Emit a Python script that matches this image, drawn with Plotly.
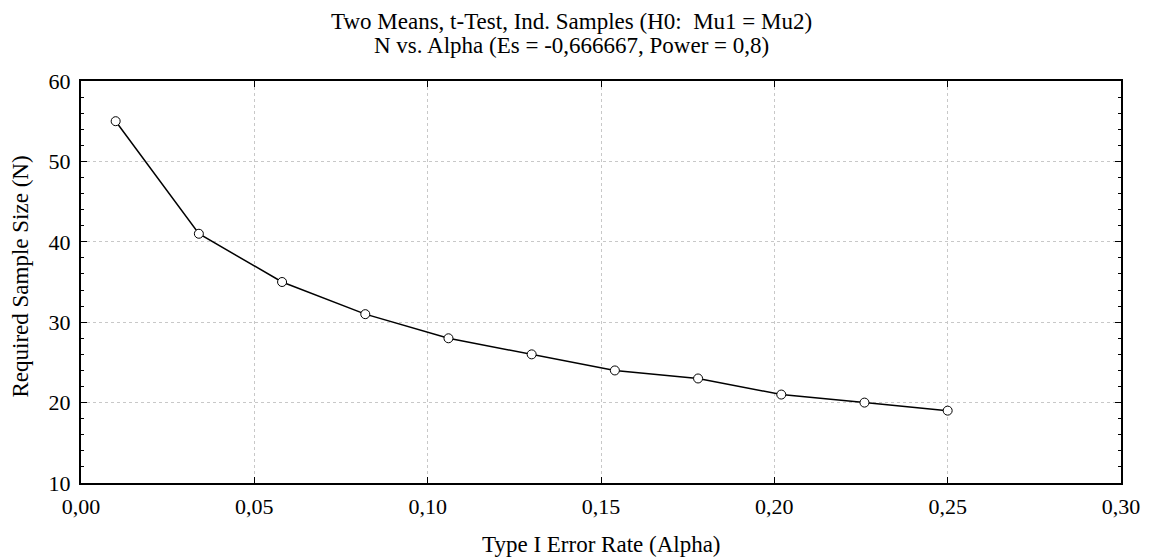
import plotly.graph_objects as go

alpha = [0.010, 0.034, 0.058, 0.082, 0.106, 0.130, 0.154, 0.178, 0.202, 0.226, 0.250]
n_required = [55, 41, 35, 31, 28, 26, 24, 23, 21, 20, 19]

title_lines = ["Two Means, t-Test, Ind. Samples (H0:  Mu1 = Mu2)",
               "N vs. Alpha (Es = -0,666667, Power = 0,8)"]
x_title = "Type I Error Rate (Alpha)"
y_title = "Required Sample Size (N)"

font_family = "Liberation Serif, Times New Roman, serif"

fig = go.Figure()
fig.add_trace(go.Scatter(
    x=alpha, y=n_required, mode="lines+markers",
    line=dict(color="black", width=1.5),
    marker=dict(symbol="circle", size=9, color="white",
                line=dict(color="black", width=1)),
    showlegend=False,
))

axis_common = dict(
    showline=True, linecolor="black", linewidth=2, mirror="ticks",
    ticks="inside", ticklen=6, tickcolor="black", tickwidth=1,
    showgrid=True, gridcolor="#c8c8c8", griddash="dot", gridwidth=1,
    zeroline=False, tickfont=dict(size=22),
)

fig.update_layout(
    width=1144, height=551,
    margin=dict(l=73, r=31, t=73, b=76),
    paper_bgcolor="white", plot_bgcolor="white",
    separators=", ",
    font=dict(family=font_family, color="black", size=22),
    xaxis=dict(range=[0, 0.30], dtick=0.05, tickformat=".2f",
               ticklabelstandoff=3, **axis_common),
    yaxis=dict(range=[10, 60], dtick=10, ticklabelstandoff=4,
               minor=dict(dtick=2, ticks="inside", ticklen=3,
                          tickcolor="black", showgrid=False),
               **axis_common),
)

# titles as annotations for precise placement
for text, shift in zip(title_lines, [60, 36]):
    fig.add_annotation(text=text, xref="paper", yref="paper", x=0.4716, y=1,
                       xanchor="center", yanchor="middle", yshift=shift,
                       showarrow=False, font=dict(size=23, family=font_family))

fig.add_annotation(text=x_title, xref="paper", yref="paper", x=0.5, y=0,
                   xanchor="center", yanchor="middle", yshift=-61,
                   showarrow=False, font=dict(size=23, family=font_family))
fig.add_annotation(text=y_title, xref="paper", yref="paper", x=0, y=0.5,
                   xanchor="center", yanchor="middle", xshift=-61.5, yshift=5,
                   textangle=-90, showarrow=False,
                   font=dict(size=23, family=font_family))

fig.write_html("out.html")
